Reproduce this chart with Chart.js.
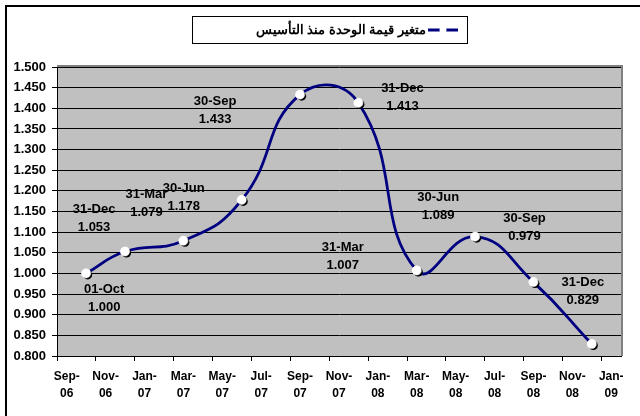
<!DOCTYPE html>
<html>
<head>
<meta charset="utf-8">
<script src="https://cdn.jsdelivr.net/npm/chart.js@4.4.1/dist/chart.umd.min.js"></script>
<style>
  html, body { margin: 0; padding: 0; background: #fff; }
  #wrap { width: 640px; height: 416px; position: relative; }
</style>
</head>
<body>
<div id="wrap"><canvas id="unitChart"></canvas></div>
<script>
// Series name (legend)
const seriesName = 'متغير قيمة الوحدة منذ التأسيس';

// Valuation dates and unit values
const dates = ['2006-10-01', '2006-12-31', '2007-03-31', '2007-06-30', '2007-09-30',
               '2007-12-31', '2008-03-31', '2008-06-30', '2008-09-30', '2008-12-31'];
const unitValues = [1.000, 1.053, 1.079, 1.178, 1.433, 1.413, 1.007, 1.089, 0.979, 0.829];

// Axis labels, one every two months starting Sep-06
const xTickLabels = ['Sep-06', 'Nov-06', 'Jan-07', 'Mar-07', 'May-07', 'Jul-07', 'Sep-07', 'Nov-07',
                     'Jan-08', 'Mar-08', 'May-08', 'Jul-08', 'Sep-08', 'Nov-08', 'Jan-09'];
const yMin = 0.8;
const yMax = 1.5;
const yStep = 0.05;

const monthAbr = ['Jan', 'Feb', 'Mar', 'Apr', 'May', 'Jun', 'Jul', 'Aug', 'Sep', 'Oct', 'Nov', 'Dec'];

// month slot counted from Sep-2006, point sits in the middle of its month
let monthSlot = (d) => {
    const [y, m] = d.split('-').map(Number);
    return (y - 2006) * 12 + (m - 9) + 0.5;
};
let shortDate = (d) => {
    const parts = d.split('-');
    return `${parts[2]}-${monthAbr[Number(parts[1]) - 1]}`;
};

// where each data label sits, relative to its point (first line centre)
const labelOffsets = [[18, 16], [-31, -42], [-37, -46], [-58, -12], [-85, 7],
                      [44, -14], [-74, -23], [-37, -39], [-9, -64], [-9, -62]];

const NAVY = '#000080';
const FONT = 'Arial, "Liberation Sans", Helvetica, sans-serif';

const chartDecor = {
    id: 'chartDecor',
    beforeDraw(chart) {
        const {ctx, chartArea: a} = chart;
        ctx.save();
        ctx.fillStyle = '#fff';
        ctx.fillRect(0, 0, chart.width, chart.height);
        ctx.fillStyle = '#C0C0C0';
        ctx.fillRect(a.left, a.top, a.right - a.left, a.bottom - a.top);
        // outer frame (only left/top fall inside the picture)
        ctx.strokeStyle = '#000';
        ctx.lineWidth = 2;
        ctx.strokeRect(6, 6, chart.width + 20, chart.height + 20);
        ctx.restore();
    },
    beforeDatasetsDraw(chart) {
        const {ctx, chartArea: a} = chart;
        ctx.save();
        ctx.strokeStyle = '#808080';
        ctx.lineWidth = 2;
        ctx.beginPath();
        ctx.moveTo(a.left, a.top - 1);
        ctx.lineTo(a.right + 1, a.top - 1);
        ctx.lineTo(a.right + 1, a.bottom);
        ctx.stroke();
        ctx.restore();
    },
    afterDatasetsDraw(chart) {
        const {ctx} = chart;
        const meta = chart.getDatasetMeta(0);
        ctx.save();
        // marker shadows, then markers again on top
        meta.data.forEach((pt) => {
            ctx.fillStyle = '#000';
            ctx.beginPath();
            ctx.arc(pt.x + 1.5, pt.y + 1.5, 4.5, 0, Math.PI * 2);
            ctx.fill();
            pt.draw(ctx, chart.chartArea);
        });
        // data labels
        ctx.fillStyle = '#000';
        ctx.font = `bold 13px ${FONT}`;
        ctx.textAlign = 'center';
        ctx.textBaseline = 'middle';
        meta.data.forEach((pt, i) => {
            const [dx, dy] = labelOffsets[i];
            ctx.fillText(shortDate(dates[i]), pt.x + dx, pt.y + dy);
            ctx.fillText(unitValues[i].toFixed(3), pt.x + dx, pt.y + dy + 18);
        });
        ctx.restore();
    },
    afterDraw(chart) {
        const {ctx} = chart;
        ctx.save();
        // legend box
        ctx.strokeStyle = '#000';
        ctx.lineWidth = 1;
        ctx.strokeRect(192.5, 16.5, 275, 27);
        // key: line with a white marker in the middle
        ctx.strokeStyle = NAVY;
        ctx.lineWidth = 3;
        ctx.beginPath();
        ctx.moveTo(428, 30);
        ctx.lineTo(458, 30);
        ctx.stroke();
        ctx.fillStyle = '#fff';
        ctx.beginPath();
        ctx.arc(443, 30, 3.5, 0, Math.PI * 2);
        ctx.fill();
        // text
        ctx.fillStyle = '#000';
        ctx.font = `bold 13px ${FONT}`;
        ctx.direction = 'rtl';
        ctx.textAlign = 'right';
        ctx.textBaseline = 'middle';
        ctx.fillText(seriesName, 426, 30);
        ctx.restore();
    }
};

new Chart(document.getElementById('unitChart').getContext('2d'), {
    type: 'line',
    data: {
        datasets: [{
            label: seriesName,
            data: dates.map((d, i) => ({x: monthSlot(d), y: unitValues[i]})),
            borderColor: NAVY,
            borderWidth: 2.8,
            tension: 0.48,
            fill: false,
            pointRadius: 4.5,
            pointBackgroundColor: '#fff',
            pointBorderColor: '#fff',
            pointBorderWidth: 0.5,
        }]
    },
    options: {
        responsive: true,
        maintainAspectRatio: false,
        animation: false,
        events: [],
        layout: {
            padding: {left: 0, top: 67, right: 19, bottom: 0}
        },
        plugins: {
            legend: {display: false},
            tooltip: {enabled: false},
        },
        scales: {
            x: {
                type: 'linear',
                min: 0,
                max: 29,
                afterBuildTicks: (scale) => {
                    scale.ticks = xTickLabels.map((_, i) => ({value: i * 2}));
                },
                afterFit: (scale) => { scale.height = 60; },
                border: {color: '#000', width: 1},
                grid: {
                    drawOnChartArea: false,
                    color: '#000',
                    tickLength: 5,
                },
                ticks: {
                    autoSkip: false,
                    maxRotation: 0,
                    labelOffset: 9.7,
                    padding: 7,
                    color: '#000',
                    font: {family: FONT, size: 12, weight: 'bold', lineHeight: 1.4},
                    callback: (value) => {
                        const lbl = xTickLabels[Math.round(value / 2)];
                        const [m, y] = lbl.split('-');
                        return [m + '-', y];
                    }
                }
            },
            y: {
                min: yMin,
                max: yMax,
                afterFit: (scale) => { scale.width = 57; },
                border: {color: '#000', width: 1},
                grid: {
                    color: '#000',
                    lineWidth: 1,
                    tickLength: 5,
                },
                ticks: {
                    stepSize: yStep,
                    padding: 6,
                    color: '#000',
                    font: {family: FONT, size: 13, weight: 'bold'},
                    callback: (value) => value.toFixed(3),
                }
            }
        }
    },
    plugins: [chartDecor]
});
</script>
</body>
</html>
